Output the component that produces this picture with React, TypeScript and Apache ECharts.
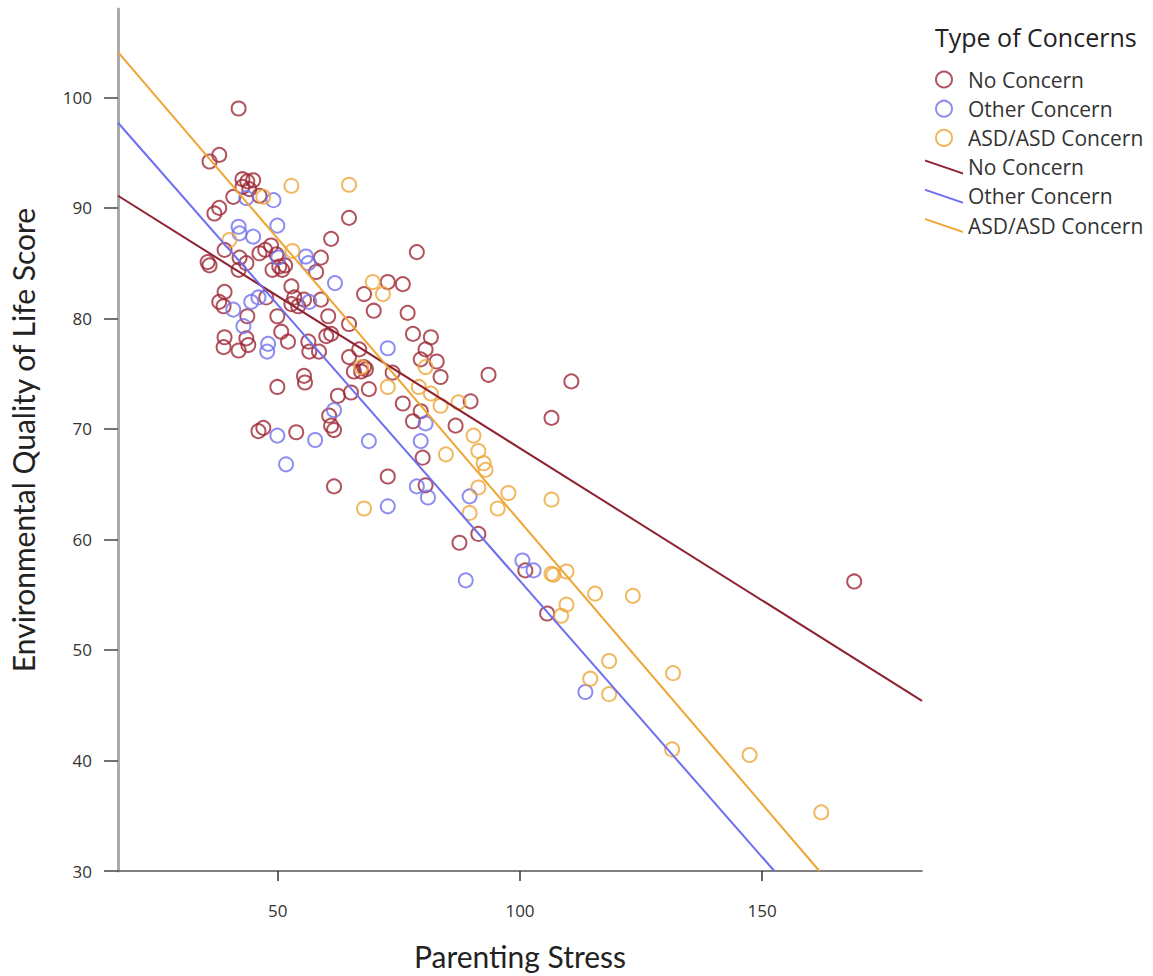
import React, { useEffect, useRef } from "react";
import * as echarts from "echarts";

// ---- Data (Parenting Stress, Environmental QoL score) ----
const noConcernStress = [41.9, 37.9, 35.9, 42.7, 43.7, 44.9, 42.7, 44.1, 40.8, 46.2, 37.9, 36.9, 64.7, 61.0, 35.9, 35.5, 39.0, 42.1, 43.5, 41.9, 46.2, 47.4, 48.6, 49.7, 48.9, 50.9, 51.5, 50.3, 58.9, 57.9, 72.7, 75.8, 67.8, 69.8, 76.8, 39.0, 37.9, 38.8, 47.6, 52.8, 53.4, 52.8, 54.2, 55.4, 58.9, 43.7, 49.9, 50.7, 52.1, 39.0, 38.8, 41.9, 43.9, 43.5, 56.3, 56.5, 58.5, 60.0, 60.4, 64.7, 61.0, 77.9, 81.6, 80.5, 64.7, 66.8, 79.5, 82.8, 83.6, 93.5, 65.7, 67.2, 68.2, 73.7, 68.8, 62.4, 65.1, 75.8, 89.8, 79.5, 77.9, 86.7, 61.0, 55.4, 67.8, 49.9, 55.6, 60.6, 61.6, 46.0, 47.0, 53.8, 61.6, 79.9, 72.7, 80.5, 91.4, 87.5, 101.1, 105.6, 106.5, 110.6, 169.0, 78.7];
const noConcernQoL = [99.0, 94.8, 94.2, 92.6, 92.4, 92.5, 91.9, 91.7, 91.0, 91.1, 90.0, 89.5, 89.1, 87.2, 84.8, 85.1, 86.2, 85.5, 85.0, 84.4, 85.9, 86.2, 86.6, 85.8, 84.4, 84.4, 84.8, 84.7, 85.5, 84.2, 83.3, 83.1, 82.2, 80.7, 80.5, 82.4, 81.5, 81.1, 81.9, 82.9, 81.9, 81.3, 81.1, 81.7, 81.7, 80.2, 80.2, 78.8, 77.9, 78.3, 77.4, 77.1, 77.6, 78.2, 77.9, 77.0, 77.0, 78.4, 80.2, 79.5, 78.6, 78.6, 78.3, 77.2, 76.5, 77.2, 76.3, 76.1, 74.7, 74.9, 75.2, 75.2, 75.4, 75.1, 73.6, 73.0, 73.3, 72.3, 72.5, 71.6, 70.7, 70.3, 70.3, 74.8, 75.6, 73.8, 74.2, 71.2, 69.9, 69.8, 70.1, 69.7, 64.8, 67.4, 65.7, 64.9, 60.5, 59.7, 57.2, 53.3, 71.0, 74.3, 56.2, 86.0];

const otherConcernStress = [43.5, 49.1, 41.9, 49.9, 42.1, 44.9, 50.1, 55.8, 56.3, 61.8, 40.8, 44.5, 46.0, 56.5, 42.9, 48.0, 47.8, 72.7, 80.5, 68.8, 79.5, 49.9, 57.7, 61.6, 51.7, 78.7, 81.0, 89.6, 72.7, 88.8, 100.5, 102.8, 113.5];
const otherConcernQoL = [90.9, 90.7, 88.3, 88.4, 87.7, 87.4, 85.5, 85.6, 85.0, 83.2, 80.8, 81.5, 81.9, 81.5, 79.3, 77.7, 77.0, 77.3, 70.5, 68.9, 68.9, 69.4, 69.0, 71.7, 66.8, 64.8, 63.8, 63.9, 63.0, 56.3, 58.1, 57.2, 46.2];

const asdConcernStress = [52.8, 64.7, 47.0, 40.0, 53.0, 69.6, 71.7, 67.2, 80.5, 72.7, 79.1, 81.6, 83.6, 87.3, 90.4, 84.7, 91.4, 92.5, 92.9, 91.4, 97.6, 95.4, 67.8, 89.6, 106.5, 106.5, 106.9, 109.6, 115.5, 123.3, 109.6, 108.5, 118.4, 131.6, 114.5, 118.4, 131.4, 147.4, 162.2];
const asdConcernQoL = [92.0, 92.1, 91.0, 87.1, 86.1, 83.3, 82.2, 75.6, 75.6, 73.8, 73.8, 73.2, 72.1, 72.4, 69.4, 67.7, 68.0, 66.9, 66.3, 64.7, 64.2, 62.8, 62.8, 62.4, 63.6, 56.9, 56.8, 57.1, 55.1, 54.9, 54.1, 53.1, 49.0, 47.9, 47.4, 46.0, 41.0, 40.5, 35.3];

// Fit lines (intercept, slope)
const groupNames = ["No Concern", "Other Concern", "ASD/ASD Concern"];
const fitIntercepts = [95.78, 106.2, 112.8];
const fitSlopes = [-0.2753, -0.4996, -0.5117];

const xTicks = [50, 100, 150];
const yTicks = [30, 40, 50, 60, 70, 80, 90, 100];
const xRange = [17, 183];
const yRange = [30, 108];

const colors = ["#9e2836", "#7272ee", "#eea63a"];
const lineColors = ["#8e2231", "#6e6ef0", "#eea533"];

const TITLE_FONT = "Lato, 'Open Sans', sans-serif";
const FONT = "'Open Sans', Lato, sans-serif";

function zip(xs: number[], ys: number[]) {
  return xs.map((x, i) => [x, ys[i]]);
}

function fitLine(i: number) {
  const a = fitIntercepts[i];
  const b = fitSlopes[i];
  const x0 = xRange[0];
  let x1 = xRange[1];
  const yAtEnd = a + b * x1;
  if (yAtEnd < yRange[0]) x1 = (yRange[0] - a) / b;
  return [
    [x0, a + b * x0],
    [x1, a + b * x1],
  ];
}

export default function App() {
  const ref = useRef<HTMLDivElement>(null);
  useEffect(() => {
    document.body.style.margin = "0";
    if (!ref.current) return;
    const chart = echarts.init(ref.current, undefined, { renderer: "svg" });
    const scatterData = [
      zip(noConcernStress, noConcernQoL),
      zip(otherConcernStress, otherConcernQoL),
      zip(asdConcernStress, asdConcernQoL),
    ];
    const lineIcon = "path://M0,0 L38,13 L38,15 L0,2 Z";
    chart.setOption({
      animation: false,
      backgroundColor: "#ffffff",
      title: {
        text: "Type of Concerns",
        left: 935,
        top: 24,
        padding: 0,
        textStyle: { fontFamily: FONT, fontSize: 25, fontWeight: "normal", color: "#222" },
      },
      legend: {
        orient: "vertical",
        left: 925,
        top: 69,
        padding: 0,
        itemWidth: 38,
        itemHeight: 16,
        itemGap: 8.2,
        selectedMode: false,
        textStyle: { fontFamily: FONT, fontSize: 21, lineHeight: 20, color: "#333" },
        formatter: (name: string) => name.replace(" fit", ""),
        data: [
          ...groupNames.map((n, i) => ({
            name: n,
            icon: "circle",
            itemStyle: { color: "rgba(255,255,255,0)", borderColor: colors[i], borderWidth: 2 },
          })),
          ...groupNames.map((n, i) => ({
            name: n + " fit",
            icon: lineIcon,
            itemStyle: { color: lineColors[i], borderWidth: 0 },
          })),
        ],
      },
      grid: { left: 116, right: 231, top: 9, bottom: 99, containLabel: false },
      xAxis: {
        type: "value",
        min: xRange[0],
        max: xRange[1],
        name: "Parenting Stress",
        nameLocation: "middle",
        nameGap: 70,
        nameTextStyle: { fontFamily: TITLE_FONT, fontSize: 30, color: "#222" },
        splitLine: { show: false },
        axisLine: { show: true, lineStyle: { color: "#555", width: 1.5 } },
        axisTick: { show: true, length: 10, customValues: xTicks, lineStyle: { color: "#333", width: 1.5 } },
        axisLabel: { customValues: xTicks, margin: 31, fontFamily: FONT, fontSize: 17, color: "#333" },
      },
      yAxis: {
        type: "value",
        min: yRange[0],
        max: yRange[1],
        name: "Environmental Quality of Life Score",
        nameLocation: "middle",
        nameGap: 80,
        nameTextStyle: { fontFamily: TITLE_FONT, fontSize: 30, color: "#222" },
        splitLine: { show: false },
        axisLine: { show: true, lineStyle: { color: "#aaaaaa", width: 3 } },
        axisTick: { show: true, length: 14, customValues: yTicks, lineStyle: { color: "#444", width: 1.5 } },
        axisLabel: { customValues: yTicks, margin: 26, fontFamily: FONT, fontSize: 17, color: "#333" },
      },
      series: [
        ...groupNames.map((n, i) => ({
          name: n,
          type: "scatter",
          symbol: "circle",
          symbolSize: 14,
          itemStyle: { color: "rgba(255,255,255,0)", borderColor: colors[i], borderWidth: 2 },
          data: scatterData[i],
          z: 2,
        })),
        ...groupNames.map((n, i) => ({
          name: n + " fit",
          type: "line",
          showSymbol: false,
          symbol: "none",
          lineStyle: { color: lineColors[i], width: 2 },
          itemStyle: { color: lineColors[i] },
          data: fitLine(i),
          z: 3,
        })),
      ],
    });
    return () => chart.dispose();
  }, []);
  return <div ref={ref} style={{ width: 1153, height: 976 }} />;
}
